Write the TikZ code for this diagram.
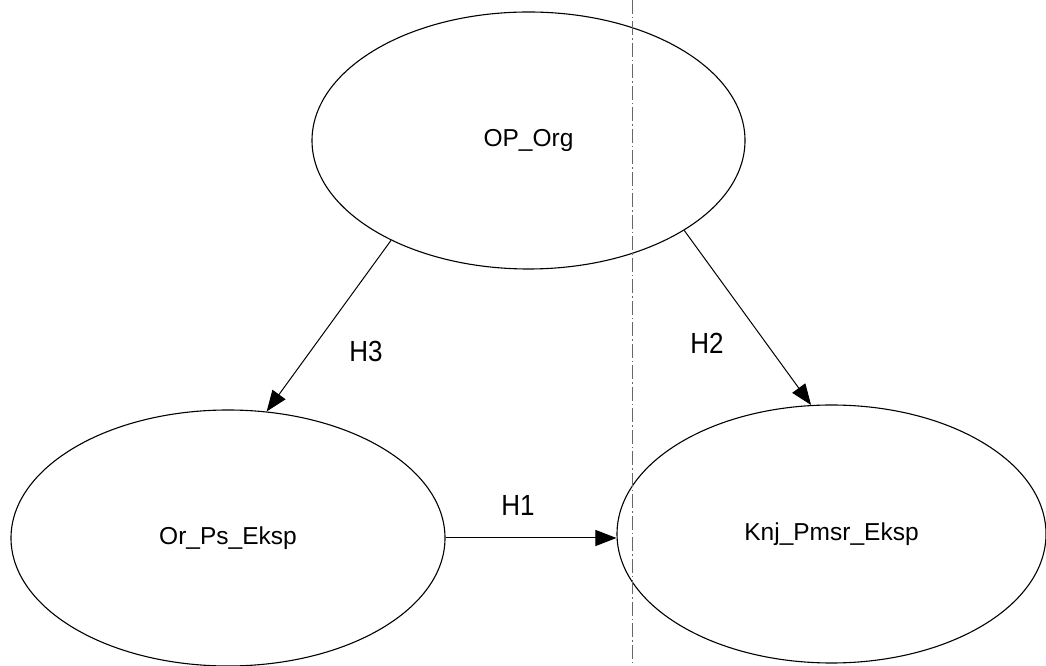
\documentclass[tikz,border=0pt]{standalone}
\usepackage{fontspec}
\setmainfont{Liberation Sans}
\usetikzlibrary{shapes.geometric,arrows.meta}
\tikzset{
  latent/.style={draw=black, line width=1.1pt, ellipse, inner sep=0pt,
    font=\fontsize{24.5}{28}\selectfont},
  path/.style={draw=black, line width=1pt, -{Triangle[length=21pt,width=16pt]}},
  hlabel/.style={font=\fontsize{26}{30}\selectfont, inner sep=0pt},
  scanline/.style={draw=black!60, line width=0.8pt, dash pattern=on 14pt off 3pt on 1.5pt off 3pt}
}
\newcommand{\tallH}[1]{\scalebox{1}[1.12]{#1}}
\begin{document}
\begin{tikzpicture}[x=1pt,y=1pt]
  \fill[white] (0,0) rectangle (1046,666);
  \useasboundingbox (0,0) rectangle (1046,666);

  \node[latent, minimum width=433pt, minimum height=257pt] (org) at (528.5,525.5) {OP\_Org};
  \node[latent, minimum width=434pt, minimum height=256pt] (ps) at (228,128) {Or\_Ps\_Eksp};
  \node[latent, minimum width=429pt, minimum height=258pt] (knj) at (831.5,132) {Knj\_Pmsr\_Eksp};

  \coordinate (top) at (632,666);
  \coordinate (bot) at (632,0);
  \draw[scanline] (top) -- (bot);

  \draw[path] (org.216.9) -- (ps.73.9);
  \draw[path] (org.330) -- (knj.99.5);
  \draw[path] (ps.east) -- (knj.west |- ps.east);

  \node[hlabel] (h3) at (366,315) {\tallH{H3}};
  \node[hlabel] (h2) at (707,323) {\tallH{H2}};
  \node[hlabel] (h1) at (518,161) {\tallH{H1}};
\end{tikzpicture}
\end{document}
